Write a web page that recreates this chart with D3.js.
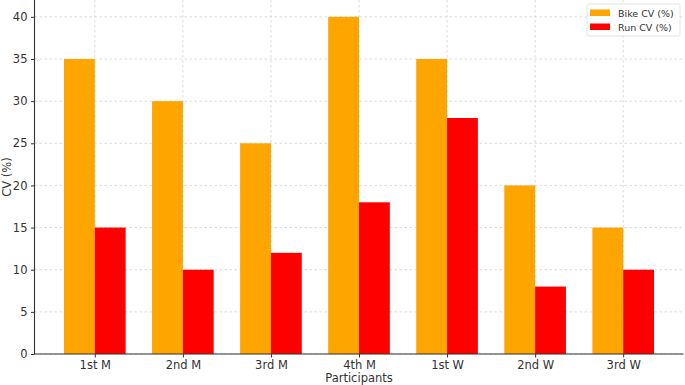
<!DOCTYPE html>
<html><head><meta charset="utf-8">
<script src="https://cdn.jsdelivr.net/npm/d3@7"></script>
<style>
html,body{margin:0;padding:0;background:#fff;}
svg{display:block;font-family:"DejaVu Sans",sans-serif;}
</style></head>
<body>
<svg id="chart" width="685" height="385"></svg>
<script>
const categories = ["1st M","2nd M","3rd M","4th M","1st W","2nd W","3rd W"];
const bikeCV = [35,30,25,40,35,20,15];
const runCV = [15,10,12,18,28,8,10];
const seriesNames = ["Bike CV (%)","Run CV (%)"];
const seriesColors = ["#FFA500","#FF0000"];
const yTicks = [0,5,10,15,20,25,30,35,40];

const svg = d3.select("#chart");
const pLeft = 34.5, pRight = 683.5, pTop = 0, pBottom = 354;
const idx = categories.map((d,i)=>i);
const x = d3.scaleLinear().domain([-0.685, 6.685]).range([pLeft, pRight]);
const y = d3.scaleLinear().domain([0, 42]).range([pBottom, pTop]);
const barW = 0.35;

// grid
const grid = svg.append("g");
grid.selectAll("line.h").data(yTicks).join("line")
  .attr("x1", pLeft).attr("x2", pRight)
  .attr("y1", d=>y(d)).attr("y2", d=>y(d))
  .attr("stroke","#d0d0d0").attr("stroke-width",0.8).attr("stroke-dasharray","2.5,2.5");
grid.selectAll("line.v").data(idx).join("line")
  .attr("x1", d=>x(d)).attr("x2", d=>x(d))
  .attr("y1", pTop).attr("y2", pBottom)
  .attr("stroke","#d0d0d0").attr("stroke-width",0.8).attr("stroke-dasharray","2.5,2.5");

// bars
const series = [bikeCV, runCV];
series.forEach((vals, s) => {
  svg.append("g").selectAll("rect").data(vals).join("rect")
    .attr("x", (d,i)=>x(i - barW + s*barW))
    .attr("width", (d,i)=>x(i + barW) - x(i))
    .attr("y", d=>y(d))
    .attr("height", d=>y(0)-y(d))
    .attr("fill", seriesColors[s]);
});

// axes
const yAxis = d3.axisLeft(y).tickValues(yTicks).tickSize(3.5).tickPadding(3.5);
const gy = svg.append("g").attr("transform",`translate(${pLeft},0)`).call(yAxis);
const xAxis = d3.axisBottom(x).tickValues(idx).tickFormat(i=>categories[i]).tickSize(3.5).tickPadding(3.5);
const gx = svg.append("g").attr("transform",`translate(0,${pBottom})`).call(xAxis);
[gx, gy].forEach(g=>{
  g.select(".domain").attr("stroke","#333").attr("stroke-width",1.1);
  g.selectAll(".tick line").attr("stroke","#333");
  g.selectAll(".tick text").attr("fill","#333").attr("font-size","11.5px").attr("font-family","DejaVu Sans");
});
gy.select(".domain").attr("d", `M0,${pBottom}V${pTop}`);
gx.select(".domain").attr("d", `M${pLeft},0H${pRight}`);

// labels
svg.append("text").attr("x", (pLeft+pRight)/2).attr("y", 382).attr("text-anchor","middle")
  .attr("font-size","11.5px").attr("fill","#333").text("Participants");
svg.append("text").attr("transform", `translate(11,${(pTop+pBottom)/2}) rotate(-90)`)
  .attr("text-anchor","middle").attr("font-size","11.5px").attr("fill","#333").text("CV (%)");

// legend
const lg = svg.append("g");
lg.append("rect").attr("x",587).attr("y",4).attr("width",93).attr("height",32).attr("rx",2)
  .attr("fill","#fff").attr("fill-opacity",0.85).attr("stroke","#ddd").attr("stroke-width",0.8);
seriesNames.forEach((n,i)=>{
  lg.append("rect").attr("x",590).attr("y",9.5+i*14).attr("width",20).attr("height",6.5).attr("fill",seriesColors[i]);
  lg.append("text").attr("x",618).attr("y",16.5+i*14).attr("font-size","9.5px").attr("fill","#333").text(n);
});
</script>
</body></html>
